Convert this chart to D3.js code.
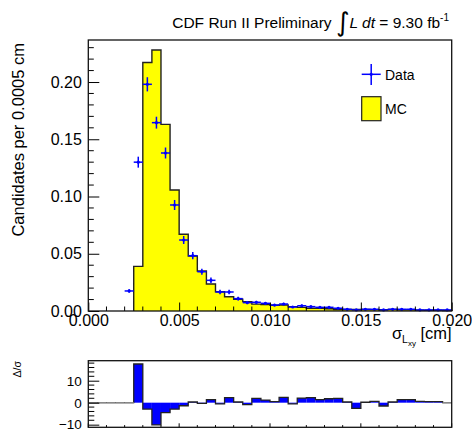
<!DOCTYPE html>
<html><head><meta charset="utf-8">
<script src="https://cdn.jsdelivr.net/npm/d3@7"></script>
<style>
body{margin:0;background:#fff}
svg{display:block}
text{font-family:"Liberation Sans",Arial,Helvetica,sans-serif;fill:#000}
</style>
</head><body>
<svg id="c" width="472" height="432"></svg>
<script>
// ---------- data ----------
const binWidth = 0.0005;
const binLow = [0.0000,0.0005,0.0010,0.0015,0.0020,0.0025,0.0030,0.0035,0.0040,0.0045,
                0.0050,0.0055,0.0060,0.0065,0.0070,0.0075,0.0080,0.0085,0.0090,0.0095,
                0.0100,0.0105,0.0110,0.0115,0.0120,0.0125,0.0130,0.0135,0.0140,0.0145,
                0.0150,0.0155,0.0160,0.0165,0.0170,0.0175,0.0180,0.0185,0.0190,0.0195];
const mcValues = [0,0,0,0,0,0.039,0.217,0.228,0.163,0.1057,
                  0.067,0.048,0.035,0.0236,0.0168,0.0125,0.0103,0.0082,0.0060,0.0057,
                  0.0050,0.0052,0.0038,0.0032,0.0024,0.0024,0.0020,0.0013,0.0013,0.0014,
                  0.0013,0.0012,0.0012,0.0014,0.0010,0.0010,0.0008,0.0006,0.0006,0.0005];
const dataValues = [null,null,null,null,0.0175,0.130,0.198,0.1645,0.138,0.0926,
                    0.062,0.0483,0.0343,0.0268,0.0166,0.0166,0.0108,0.0073,0.0076,0.0067,
                    0.0052,0.0061,0.0035,0.0046,0.0038,0.0032,0.0032,0.0024,0.0015,0.0009,
                    0.0015,0.0015,0.0009,0.0015,0.0015,0.0015,0.0009,0.0009,0.0009,0.0009];
const dataErrors = [0,0,0,0,0.0015,0.0048,0.0062,0.0052,0.0048,0.0044,
                    0.0035,0.0032,0.0027,0.0024,0.0019,0.0019,0.0016,0.0013,0.0013,0.0012,
                    0.0010,0.0011,0.0009,0.0010,0.0009,0.0008,0.0008,0.0007,0.0006,0.0005,
                    0.0006,0.0006,0.0005,0.0006,0.0006,0.0006,0.0005,0.0005,0.0005,0.0005];
const pullValues = [0,0,0,0,0,17.6,-2.9,-10.1,-4.5,-2.9,
                    -1.4,0.3,-0.3,1.4,-0.5,2.3,0.3,-0.9,2.0,1.2,
                    0.5,2.4,-0.5,2.1,2.3,1.4,1.8,2.0,0.3,-2.6,
                    0.2,0.6,-1.5,0.3,1.4,1.4,0.6,0.5,0.5,0];
const xMajorTicks = [0,0.005,0.010,0.015,0.020];
const xMinorTicks = [0.001,0.002,0.003,0.004,0.006,0.007,0.008,0.009,0.011,0.012,0.013,0.014,0.016,0.017,0.018,0.019];
const yMajorTicks = [0,0.05,0.10,0.15,0.20];
const yMinorTicks = [0.01,0.02,0.03,0.04,0.06,0.07,0.08,0.09,0.11,0.12,0.13,0.14,0.16,0.17,0.18,0.19,0.21,0.22,0.23];
const rMajorTicks = [-10,0,10];
const rMinorTicks = [-8,-6,-4,-2,2,4,6,8,12,14,16,18];

// ---------- layout ----------
const svg = d3.select('#c');
const x = d3.scaleLinear().domain([0,0.02]).range([88.3,451.7]);
const y = d3.scaleLinear().domain([0,0.2367]).range([311,40]);
const yr = d3.scaleLinear().domain([-11.2,19.1]).range([427.3,360.7]);
const blue = '#0000ff';

// ---------- MC histogram ----------
const first = mcValues.findIndex(v=>v>0);
const mcPts = [];
for(let i=first;i<binLow.length;i++) mcPts.push([binLow[i], mcValues[i]]);
mcPts.push([binLow[binLow.length-1]+binWidth, mcValues[mcValues.length-1]]);
svg.append('path')
  .attr('d', d3.area().x(d=>x(d[0])).y0(y(0)).y1(d=>y(d[1])).curve(d3.curveStepAfter)(mcPts))
  .attr('fill','#ffff00');
const outline = [[binLow[first],0], ...mcPts, [binLow[binLow.length-1]+binWidth,0]];
svg.append('path')
  .attr('d', d3.line().x(d=>x(d[0])).y(d=>y(d[1])).curve(d3.curveStepAfter)(outline))
  .attr('fill','none').attr('stroke','#222').attr('stroke-width',1.4);

// ---------- data points ----------
const pts = binLow.map((b,i)=>({b, v:dataValues[i], e:dataErrors[i]})).filter(d=>d.v!==null);
const gd = svg.append('g').attr('stroke',blue).attr('stroke-width',1.5);
gd.selectAll('line.h').data(pts).join('line')
  .attr('x1',d=>x(d.b)).attr('x2',d=>x(d.b+binWidth))
  .attr('y1',d=>y(d.v)).attr('y2',d=>y(d.v));
gd.selectAll('line.v').data(pts).join('line')
  .attr('x1',d=>x(d.b+binWidth/2)).attr('x2',d=>x(d.b+binWidth/2))
  .attr('y1',d=>y(d.v-d.e)-0.01).attr('y2',d=>y(d.v+d.e)+0.01);
svg.append('g').selectAll('circle').data(pts).join('circle')
  .attr('cx',d=>x(d.b+binWidth/2)).attr('cy',d=>y(d.v)).attr('r',1.6).attr('fill',blue);

// ---------- main axes ----------
const gx = svg.append('g').attr('transform',`translate(0,${y(0)})`)
  .call(d3.axisBottom(x).tickValues(xMajorTicks).tickSizeInner(-8.5).tickSizeOuter(0).tickPadding(4).tickFormat(d3.format('.3f')));
gx.select('.domain').remove();
gx.selectAll('.tick text').attr('font-size',16).attr('font-family','"Liberation Sans",Arial,sans-serif');
gx.selectAll('.tick line').attr('stroke','#000');
gx.selectAll('line.minor').data(xMinorTicks).join('line').attr('class','minor')
  .attr('x1',d=>x(d)).attr('x2',d=>x(d)).attr('y1',0).attr('y2',-4.5).attr('stroke','#000');

const gy = svg.append('g').attr('transform',`translate(${x(0)},0)`)
  .call(d3.axisLeft(y).tickValues(yMajorTicks).tickSizeInner(-11).tickSizeOuter(0).tickPadding(6.5).tickFormat(d3.format('.2f')));
gy.select('.domain').remove();
gy.selectAll('.tick text').attr('font-size',16).attr('font-family','"Liberation Sans",Arial,sans-serif');
gy.selectAll('.tick line').attr('stroke','#000');
gy.selectAll('line.minor').data(yMinorTicks).join('line').attr('class','minor')
  .attr('x1',0).attr('x2',5.5).attr('y1',d=>y(d)).attr('y2',d=>y(d)).attr('stroke','#000');

svg.append('rect').attr('x',x(0)).attr('y',y.range()[1]).attr('width',x(0.02)-x(0)).attr('height',y(0)-y.range()[1])
  .attr('fill','none').attr('stroke','#111').attr('stroke-width',1.3);

// axis titles
svg.append('text').attr('transform',`translate(24,43) rotate(-90)`)
  .attr('text-anchor','end').attr('font-size',16.5).text('Candidates per 0.0005 cm');
const xt = svg.append('text').attr('x',x(0.02)).attr('y',339).attr('text-anchor','end').attr('font-size',16.5);
xt.append('tspan').text('σ');
xt.append('tspan').attr('font-size',10.5).attr('dy',4).text('L');
xt.append('tspan').attr('font-size',8).attr('dy',3).text('xy');
xt.append('tspan').attr('dy',-7).text(' [cm]');

// title
const tt = svg.append('text').attr('x',449).attr('y',28).attr('text-anchor','end').attr('font-size',15.5);
tt.append('tspan').text('CDF Run II Preliminary ');
tt.append('tspan').attr('font-family','"DejaVu Sans"').attr('font-size',26).attr('dy',3).text('∫');
tt.append('tspan').attr('font-style','italic').attr('dy',-3).text('L dt');
tt.append('tspan').text(' = 9.30 fb');
tt.append('tspan').attr('font-size',10).attr('dy',-7).text('-1');

// legend
const lg = svg.append('g');
lg.append('line').attr('x1',361.7).attr('x2',380.7).attr('y1',74.3).attr('y2',74.3).attr('stroke',blue).attr('stroke-width',1.5);
lg.append('line').attr('x1',371.2).attr('x2',371.2).attr('y1',64).attr('y2',85).attr('stroke',blue).attr('stroke-width',1.5);
lg.append('circle').attr('cx',371.2).attr('cy',74.3).attr('r',1.6).attr('fill',blue);
lg.append('text').attr('x',385).attr('y',79.5).attr('font-size',14).text('Data');
lg.append('rect').attr('x',361.7).attr('y',96.7).attr('width',19.3).attr('height',24).attr('fill','#ffff00').attr('stroke','#222').attr('stroke-width',1.2);
lg.append('text').attr('x',385).attr('y',114).attr('font-size',14).text('MC');

// ---------- ratio panel ----------
const bars = binLow.map((b,i)=>({b, v:pullValues[i]}));
svg.append('g').selectAll('rect').data(bars.filter(d=>d.v!==0)).join('rect')
  .attr('x',d=>x(d.b)).attr('width',d=>x(d.b+binWidth)-x(d.b))
  .attr('y',d=>Math.min(yr(d.v),yr(0))).attr('height',d=>Math.abs(yr(d.v)-yr(0)))
  .attr('fill',blue);
const rPts = bars.map(d=>[d.b,d.v]);
rPts.push([binLow[binLow.length-1]+binWidth, pullValues[pullValues.length-1]]);
svg.append('path')
  .attr('d', d3.line().x(d=>x(d[0])).y(d=>yr(d[1])).curve(d3.curveStepAfter)(rPts))
  .attr('fill','none').attr('stroke','#222').attr('stroke-width',1.3);
svg.append('g').selectAll('line').data(bars.filter(d=>d.v===0)).join('line')
  .attr('x1',d=>x(d.b)).attr('x2',d=>x(d.b+binWidth)).attr('y1',yr(0)).attr('y2',yr(0))
  .attr('stroke','#888').attr('stroke-width',1.4);

const gry = svg.append('g').attr('transform',`translate(${x(0)},0)`)
  .call(d3.axisLeft(yr).tickValues(rMajorTicks).tickSizeInner(-11).tickSizeOuter(0).tickPadding(6.5).tickFormat(d3.format('d')));
gry.select('.domain').remove();
gry.selectAll('.tick text').attr('font-size',13.5).attr('font-family','"Liberation Sans",Arial,sans-serif');
gry.selectAll('.tick line').attr('stroke','#000');
gry.selectAll('line.minor').data(rMinorTicks).join('line').attr('class','minor')
  .attr('x1',0).attr('x2',6).attr('y1',d=>yr(d)).attr('y2',d=>yr(d)).attr('stroke','#000');

const grx = svg.append('g').attr('transform',`translate(0,${yr.range()[0]})`);
grx.selectAll('line.maj').data(xMajorTicks).join('line').attr('class','maj')
  .attr('x1',d=>x(d)).attr('x2',d=>x(d)).attr('y1',0).attr('y2',-4).attr('stroke','#000');
grx.selectAll('line.minor').data(xMinorTicks).join('line').attr('class','minor')
  .attr('x1',d=>x(d)).attr('x2',d=>x(d)).attr('y1',0).attr('y2',-2.2).attr('stroke','#000');

svg.append('rect').attr('x',x(0)).attr('y',yr.range()[1]).attr('width',x(0.02)-x(0)).attr('height',yr.range()[0]-yr.range()[1])
  .attr('fill','none').attr('stroke','#111').attr('stroke-width',1.3);

svg.append('text').attr('transform',`translate(21,361) rotate(-90)`)
  .attr('text-anchor','end').attr('font-size',10.5).text('Δ/σ');
</script>
</body></html>
